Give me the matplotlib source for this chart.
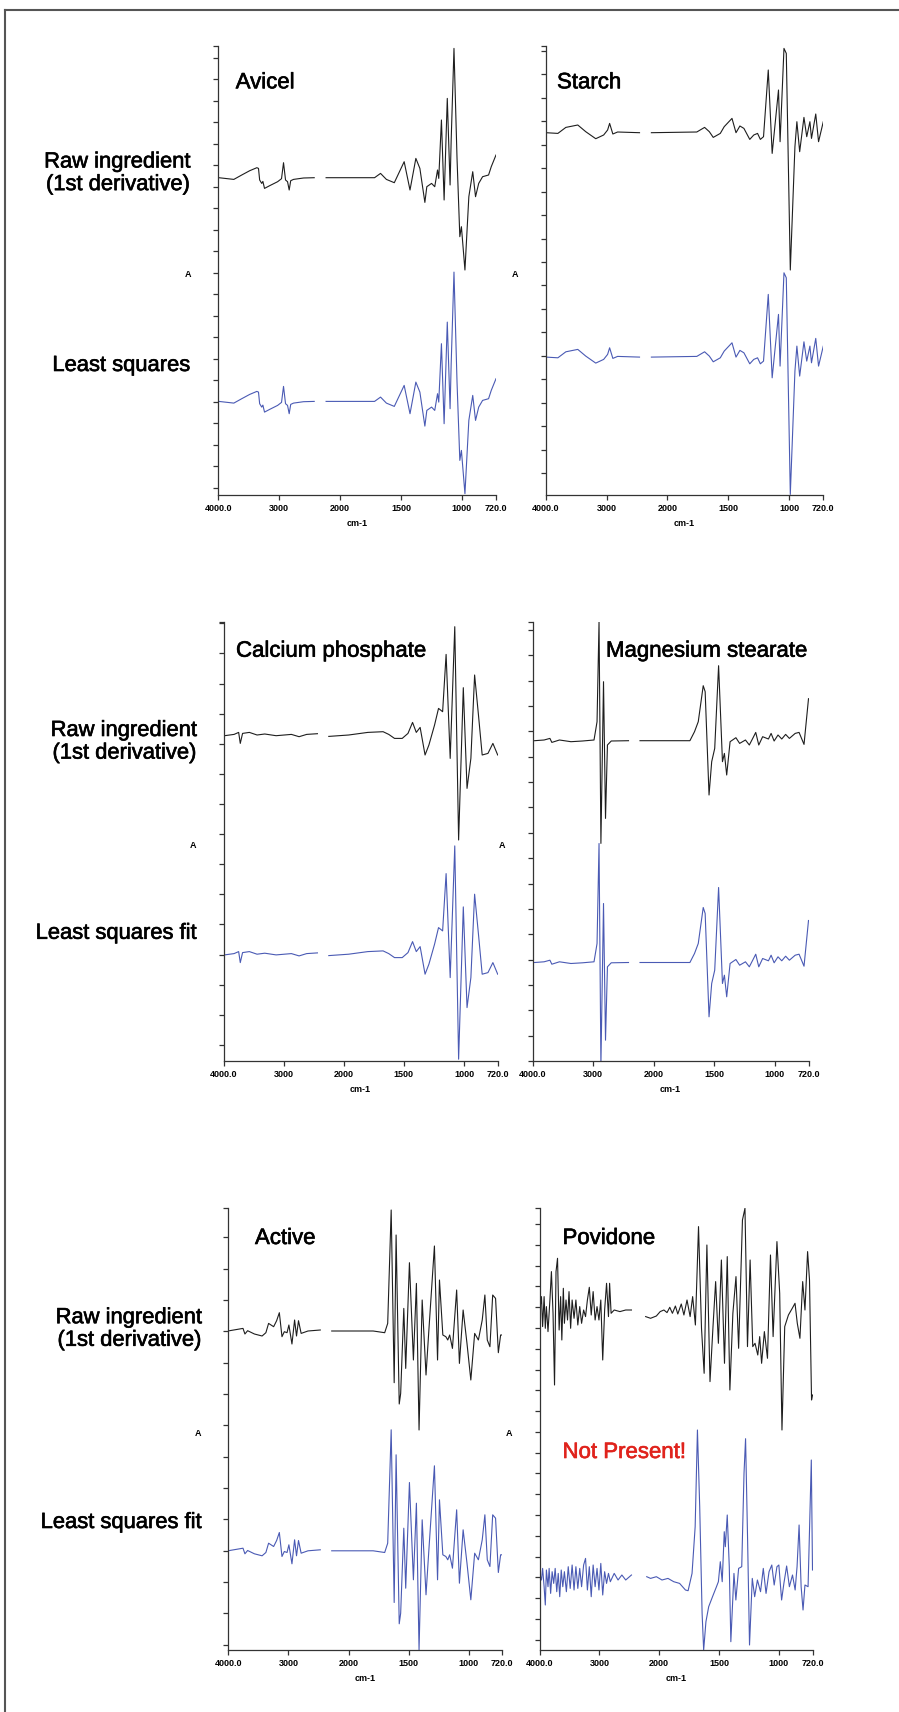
import numpy as np
import matplotlib.pyplot as plt
from matplotlib.lines import Line2D
import matplotlib.patheffects as pe

plt.rcParams['font.family'] = ['Liberation Sans', 'DejaVu Sans']

nan = np.nan

# 1st-derivative FTIR spectra: wavenumber (cm-1) vs dA (arb. units)
# nan marks the CO2 window that is cut out of every spectrum
avicel_wn = [3993, 3745, 3615, 3484, 3367, 3340, 3321, 3287, 3268, 3241, 3157, 3026, 2962, 2929,
             2896, 2863, 2836, 2811, 2765, 2600, 2425, 2330, 2230, 1717, 1668, 1620, 1555, 1474,
             1426, 1378, 1345, 1304, 1288, 1249, 1223, 1200, 1190, 1168, 1146, 1120, 1097, 1088,
             1065, 1040, 1017, 1004, 975, 943, 911, 888, 862, 830, 781, 759, 720]
avicel_raw = [0, -1.7, 2.7, 7, 10, 9.3, -2.3, -5.7, -3.7, -10.7, -8, -4, -1, 15,
              -2.3, -4, -12.3, -3, -1.7, -0.3, 0, nan, 0, 0, 4.3, -1.7, -5, 16,
              -12.3, 19.3, 9.3, -24.7, -9, -5.7, -9, 7.7, -0.7, 57.7, -22.3, 79.3, -7.3, 37.7,
              129.3, 19.3, -59, -49, -92.3, -19, 6, -19, -5.7, 1, 2.7, 11, 22.7]

starch_wn = [3995, 3800, 3669, 3473, 3342, 3178, 3048, 2983, 2950, 2897, 2819, 2459, 2360, 2264,
             1759, 1695, 1656, 1624, 1566, 1534, 1470, 1437, 1405, 1372, 1324, 1291, 1260, 1237,
             1211, 1172, 1140, 1088, 1075, 1043, 1024, 991, 953, 937, 914, 879, 856, 830, 817,
             782, 759, 720]
starch_raw = [0, -0.7, 5.3, 7.7, 1, -6, -2.3, 2.7, 9.3, -1.3, 0.7, 0, nan, 0,
              0.7, 5.3, 1, -4.7, -0.7, 6, 14.3, 0, 6.7, 4.3, -6.7, -2.3, -0.7, -6.7,
              -4, 62.7, -20.7, 42.7, -9, 84.3, 79.3, -137.3, -14, 11, -19, 15.3, -4, 11, -5.7,
              18.7, -9, 11]

capo_wn = [3982, 3824, 3748, 3721, 3683, 3570, 3442, 3314, 3125, 2871, 2743, 2617, 2438, 2340,
           2249, 1959, 1800, 1673, 1626, 1578, 1514, 1466, 1428, 1397, 1365, 1324, 1292, 1245,
           1212, 1178, 1149, 1115, 1077, 1045, 1006, 975, 943, 912, 880, 849, 801, 760, 720]
capo_raw = [0, 1.3, 3.3, -7.7, 2.3, 3.3, 0.7, 1.7, 0, 1.3, -1, 1.3, 2, nan,
            -0.7, 0.7, 3.3, 4, 1.3, -2.7, -2.7, 2.3, 13.3, 3.3, 8.3, -19.3, -9.3, 10.7,
            27.3, 24, 81.3, -22.7, 109, -104.3, 48, -52.7, -22.7, 60.7, 20.7, -19.3, -17.7, -7.7, -19.3]

mgst_wn = [3967, 3810, 3714, 3682, 3556, 3366, 3175, 2985, 2953, 2935, 2902, 2871, 2828, 2795,
           2763, 2700, 2415, 2320, 2225, 1828, 1700, 1662, 1631, 1590, 1574, 1542, 1520, 1495,
           1463, 1431, 1415, 1396, 1368, 1320, 1289, 1241, 1209, 1178, 1156, 1131, 1099, 1051,
           1029, 1004, 972, 941, 909, 878, 830, 798, 757, 720]
mgst_raw = [0, 0.7, 2.3, -1.7, 0.7, -1, -0.3, 0.7, 12.3, 19, 119, -102.7, 59, -77.7,
            -4.3, -0.3, 0, nan, 0, 0, 0, 9, 19, 55, 49, -54.3, -21, -7.7,
            75, -21, -12.7, -34.3, -1, 3, -2.7, 0.7, -4.3, 3, 8.3, -4.3, 4, 1.7,
            7.3, -0.3, 5.7, 1.7, 6.3, 2.3, 7.3, 8.3, -3.7, 42]

active_wn = [3980, 3853, 3757, 3725, 3680, 3567, 3439, 3376, 3331, 3247, 3197, 3152, 3108, 3069,
             3024, 2993, 2942, 2898, 2866, 2833, 2789, 2675, 2470, 2370, 2280, 1955, 1795, 1699,
             1674, 1645, 1620, 1604, 1578, 1566, 1540, 1524, 1493, 1460, 1435, 1413, 1387, 1355,
             1333, 1285, 1259, 1243, 1215, 1190, 1174, 1158, 1135, 1100, 1077, 1046, 1014, 982,
             950, 919, 887, 865, 845, 823, 800, 776, 753, 734, 720]
active_raw = [0, 1.3, 2.3, -3.3, 0, -3.3, -5.3, -2, 7.3, 4, 10, 18, -6, -1,
              -2, 5.7, -13.3, 10.7, -5.3, 10, -2.7, -0.3, 0.7, nan, -0.3, -0.3, -0.3, -2,
              7.3, 120.7, -52, 95.7, -73.3, -62.7, 22.3, -37.7, 68, -29.3, 47.3, -99.3, 30.7, -44.3,
              -2.7, 84.7, -29.3, 50.7, -4.3, -6, -9.3, -4.3, -17.7, 40.7, -32.7, 20.7, -12.7, -49.3,
              -2.7, -9.3, 10.7, 35.7, -9.3, -16, 35.7, 32.3, -22, -4.3, -4.3]

povidone_wn = [3998, 3967, 3948, 3923, 3903, 3885, 3858, 3826, 3801, 3774, 3749, 3724, 3699, 3672,
               3647, 3627, 3602, 3584, 3557, 3532, 3507, 3480, 3455, 3423, 3392, 3360, 3328, 3297,
               3263, 3231, 3200, 3168, 3136, 3104, 3071, 3039, 3007, 2976, 2944, 2912, 2880, 2848,
               2829, 2804, 2752, 2657, 2560, 2464, 2350, 2227, 2145, 2048, 1992, 1961, 1935, 1912,
               1890, 1865, 1845, 1816, 1794, 1768, 1742, 1721, 1698, 1672, 1647, 1625, 1602, 1576,
               1551, 1529, 1506, 1481, 1455, 1432, 1410, 1385, 1359, 1337, 1305, 1284, 1263, 1241,
               1219, 1200, 1177, 1161, 1145, 1122, 1096, 1071, 1049, 1017, 994, 975, 952, 921,
               889, 866, 847, 825, 802, 783, 761, 745, 728, 720]
povidone_raw = [1.7, 16.7, -13.3, 16.7, -15, 6.7, -18.3, 13.3, 41.7, 0, -71.7, 41.7, 55, -16.7,
                16.7, -26.7, 25, -10, 13.3, -6.7, 21.7, -15, 13.3, -5, 13.3, -11.7, 6.7, -10,
                3.3, -3.3, 13.3, 26, -1.7, 21.7, -6.7, 6.7, -6.7, 13.3, -46.7, 3.3, 30, -3.3,
                30, 0, 3.3, 1.7, 3.3, 3.3, nan, -3.3, -5, -2.7, 1.7, 3.3, 0.7, 6,
                0, 7.3, -0.7, 9.3, -1.7, 13.3, -3.3, 16.7, -11.7, 86.7, -15, -60, 68.3, -68.3,
                -13.3, 31.7, -30, 53.3, -50, 56.7, -76.7, 0, 36.7, -35, 93.3, 105, -33.3, 53.3,
                -33.3, -30, -41.7, -23.3, -50, -18.3, -45, 58.3, -23.3, 71.7, 20, -116.7, -13.3, -1.7,
                5, 10, -10, -25, 31.7, 3.3, 61.7, 33.3, -86.7, -81.7]

# the least-squares fit of the tablet spectrum has no povidone bands
povidone_fit_wn = [3998, 3967, 3948, 3923, 3903, 3885, 3858, 3839, 3814, 3789, 3763, 3738, 3712, 3687,
                   3662, 3637, 3611, 3584, 3551, 3520, 3487, 3455, 3423, 3392, 3360, 3328, 3297, 3263,
                   3231, 3200, 3168, 3136, 3104, 3071, 3039, 3007, 2976, 2944, 2912, 2880, 2848, 2817,
                   2752, 2688, 2624, 2560, 2464, 2340, 2209, 2145, 2048, 1977, 1927, 1879, 1830, 1781,
                   1759, 1726, 1700, 1681, 1662, 1642, 1629, 1610, 1587, 1555, 1522, 1506, 1490, 1474,
                   1457, 1448, 1432, 1415, 1402, 1376, 1360, 1337, 1311, 1292, 1279, 1262, 1246, 1223,
                   1203, 1180, 1154, 1131, 1108, 1083, 1060, 1040, 1017, 1001, 978, 959, 936, 913,
                   887, 865, 849, 832, 815, 799, 783, 757, 730, 720]
povidone_fit = [3.3, -3.3, 8.3, -10, -28.3, 6.7, -10, 8.3, -16.7, 5, -6.7, 8.3, -15, 3.3,
                -20, 6.7, -10, 5, -15, 10, -11.7, 11.7, -13.3, 10, -11.7, 8.3, -10, 11.7,
                18.3, -13.3, 10, -20, 11.7, -10, 8.3, -13.3, 13.3, -18.3, 5, -6.7, 3.3, -5,
                3.3, -3.3, 1.7, -3.3, 1.7, nan, 0, -1.7, 0, -3.3, -1.7, -5, -6.7, -13.3,
                -14, 3.3, 50, 146.7, 70, -36.7, -73.3, -45, -30, -20, -10, -5, 15, -5,
                45, 30, 61.7, 10, -65, 3.3, -23.3, 8.3, 10, 103.3, 138, 36.7, -68.3, -1.7,
                -20, -3.3, -15, 8.3, -16.7, 5, 11.7, -8.3, 10, 11.7, -23.3, -6.7, 10.7, -10,
                1.7, -13.3, 10, 51.7, -10, -33.3, -8.3, -10, 116.7, 6.7]

W, H = 899, 1712
fig = plt.figure(figsize=(W / 100, H / 100), dpi=100)


# the instrument doubles the x scale below 2000 cm-1
def fwd(x):
    x = np.asarray(x, dtype=float)
    return np.where(x >= 2000, x, 2 * x - 2000)


def inv(u):
    u = np.asarray(u, dtype=float)
    return np.where(u >= 2000, u, (u + 2000) / 2)


xticks = [4000, 3000, 2000, 1500, 1000, 720]
xticklabels = ['4000.0', '3000', '2000', '1500', '1000', '720.0']

black = '#1e1e1e'
blue = '#4a5ab4'
axis_col = '#333333'

# box = left, right, top, bottom in pixels; ylim = top, bottom; ticks = first, step
panels = [
    dict(title='Avicel', wn=avicel_wn, raw=avicel_raw, fit_wn=avicel_wn, fit=avicel_raw,
         box=(218.3, 496, 46.5, 495), ylim=(131.2, -317.3), ticks=(120, 21.5), offset=223.7,
         title_xy=(235.7, 88.3)),
    dict(title='Starch', wn=starch_wn, raw=starch_raw, fit_wn=starch_wn, fit=starch_raw,
         box=(545.7, 823.3, 46.5, 495), ylim=(86.2, -362.3), ticks=(81.7, 23.45), offset=224.4,
         title_xy=(557, 88.3)),
    dict(title='Calcium phosphate', wn=capo_wn, raw=capo_raw, fit_wn=capo_wn, fit=capo_raw,
         box=(223.5, 497.7, 621.7, 1061), ylim=(114, -325.3), ticks=(112.4, 30.12), offset=219.2,
         title_xy=(236, 656.7)),
    dict(title='Magnesium stearate', wn=mgst_wn, raw=mgst_raw, fit_wn=mgst_wn, fit=mgst_raw,
         box=(532.6, 808.5, 621.7, 1061), ylim=(119, -320.3), ticks=(110.7, 25.35), offset=221.8,
         title_xy=(606, 656.7)),
    dict(title='Active', wn=active_wn, raw=active_raw, fit_wn=active_wn, fit=active_raw,
         box=(228.4, 502.3, 1208.3, 1650), ylim=(122.4, -319.3), ticks=(93.5, 31.35), offset=219.8,
         title_xy=(255, 1244)),
    dict(title='Povidone', wn=povidone_wn, raw=povidone_raw, fit_wn=povidone_fit_wn, fit=povidone_fit,
         box=(539.5, 812.5, 1208.3, 1650), ylim=(105, -336.7), ticks=(89.2, 20.78), offset=263.4,
         title_xy=(562.5, 1244)),
]

# row labels: right edge x, centre y of the two labels
rows = [
    (190, 173.3, 365.5, 'Least squares'),
    (196.5, 741.8, 933.3, 'Least squares fit'),
    (201.5, 1329, 1522.5, 'Least squares fit'),
]


def fx(x):
    return x / W


def fy(y):
    return 1 - y / H


def medium(color='black'):
    # thicken the regular face a little, like the medium weight of the original
    return [pe.withStroke(linewidth=0.45, foreground=color)]


for p in panels:
    l, r, t, b = p['box']
    ax = fig.add_axes([fx(l), fy(b), (r - l) / W, (b - t) / H])
    ax.set_xscale('function', functions=(fwd, inv))
    ax.plot(p['wn'], p['raw'], color=black, lw=0.8)
    ax.plot(p['fit_wn'], np.array(p['fit']) - p['offset'], color=blue, lw=0.8)
    ax.set_xlim(4000, 720)
    top, bot = p['ylim']
    ax.set_ylim(bot, top)

    first, step = p['ticks']
    ax.set_yticks([top] + list(np.arange(first, bot, -step)))
    ax.set_xticks(xticks)
    ax.set_xticklabels(xticklabels)
    ax.minorticks_off()

    for side in ['top', 'right']:
        ax.spines[side].set_visible(False)
    for side in ['left', 'bottom']:
        ax.spines[side].set_color(axis_col)
        ax.spines[side].set_linewidth(0.9)
    ax.tick_params(axis='x', direction='out', length=3.6, width=0.9, color=axis_col,
                   labelsize=6.5, pad=3)
    ax.tick_params(axis='y', direction='out', length=3.4, width=0.9, color=axis_col,
                   labelleft=False)
    for lab in ax.get_xticklabels():
        lab.set_fontweight('bold')
    ax.set_xlabel('cm-1', fontsize=6.5, fontweight='bold', labelpad=4)

    fig.text(fx(l - 30.5), fy((t + b) / 2 + 4), 'A', fontsize=6.5, fontweight='bold',
             ha='center', va='center')
    fig.text(fx(p['title_xy'][0]), fy(p['title_xy'][1]), p['title'], fontsize=16,
             ha='left', va='baseline', path_effects=medium())

fig.text(fx(562.5), fy(1458), 'Not Present!', fontsize=16, color='#e0231c',
         ha='left', va='baseline', path_effects=medium('#e0231c'))

for x_right, y_raw, y_fit, fit_label in rows:
    fig.text(fx(x_right), fy(y_raw), 'Raw ingredient\n(1st derivative)', fontsize=15.8,
             ha='right', va='center', linespacing=1.1, path_effects=medium())
    fig.text(fx(x_right), fy(y_fit), fit_label, fontsize=15.8, ha='right', va='center',
             path_effects=medium())

# page frame (left and top edges only)
fig.add_artist(Line2D([fx(5), fx(5)], [0, fy(9.5)], transform=fig.transFigure,
                      color='#555555', lw=1.5))
fig.add_artist(Line2D([fx(5), 1], [fy(9.5), fy(9.5)], transform=fig.transFigure,
                      color='#555555', lw=1.5))

fig.savefig('out.png', dpi=100)
